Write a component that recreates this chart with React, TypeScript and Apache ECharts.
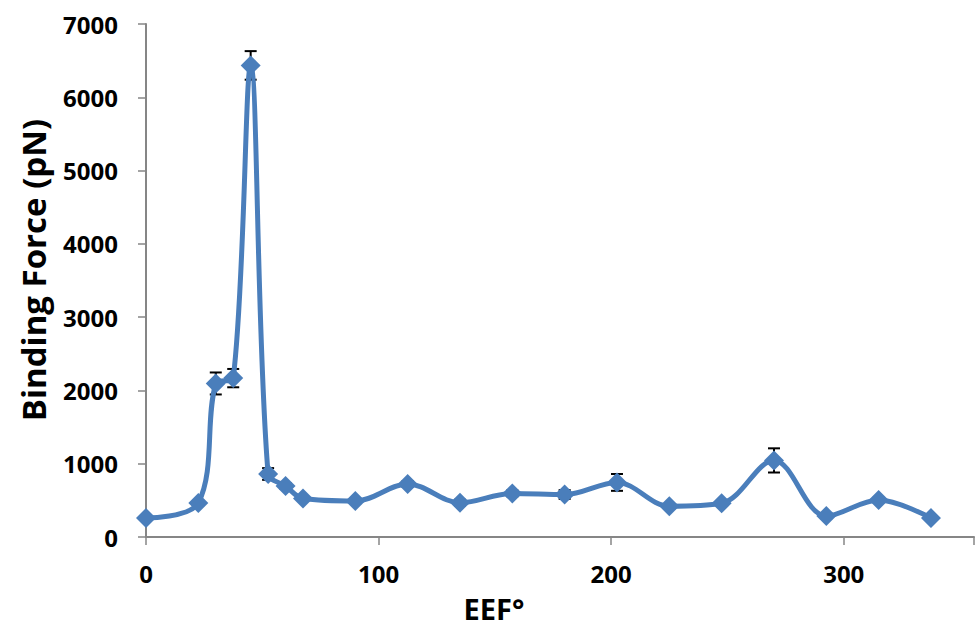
import React, { useEffect, useRef } from "react";
import * as echarts from "echarts";

const eef: number[] = [0, 22.5, 30, 37.5, 45, 52.5, 60, 67.5, 90, 112.5, 135, 157.5, 180, 202.5, 225, 247.5, 270, 292.5, 315, 337.5];
const force: number[] = [259, 464, 2095, 2168, 6435, 860, 696, 525, 491, 723, 468, 595, 580, 745, 420, 460, 1045, 286, 505, 259];
const errors: number[] = [20, 30, 150, 125, 195, 80, 40, 30, 30, 40, 40, 40, 60, 115, 30, 30, 165, 30, 30, 20];
const xTicks: number[] = [0, 100, 200, 300];
const yTicks: number[] = [0, 1000, 2000, 3000, 4000, 5000, 6000, 7000];

const BLUE = "#4A7EBB";
const AXIS = "#868686";
const FONT = "'Open Sans', 'DejaVu Sans', sans-serif";

export default function App() {
  const ref = useRef<HTMLDivElement>(null);
  useEffect(() => {
    if (!ref.current) return;
    const chart = echarts.init(ref.current, undefined, { renderer: "svg" });
    const lineData = eef.map((x, i) => [x, force[i]]);
    const errData = eef.map((x, i) => [x, force[i] - errors[i], force[i] + errors[i]]);
    chart.setOption({
      animation: false,
      backgroundColor: "#ffffff",
      grid: { left: 146, right: 0, top: 24, bottom: 91, containLabel: false },
      xAxis: {
        type: "value",
        min: 0,
        max: 356,
        interval: 100,
        splitLine: { show: false },
        axisLine: { show: true, lineStyle: { color: AXIS, width: 2 } },
        axisTick: { show: true, length: 8, lineStyle: { color: AXIS, width: 1.5 } },
        axisLabel: {
          margin: 24,
          color: "#000",
          fontFamily: FONT,
          fontWeight: "bold",
          fontSize: 24,
          formatter: (v: number) => (xTicks.indexOf(v) >= 0 ? String(v) : ""),
        },
      },
      yAxis: {
        type: "value",
        min: 0,
        max: 7000,
        interval: 1000,
        splitLine: { show: false },
        axisLine: { show: true, lineStyle: { color: AXIS, width: 2 } },
        axisTick: { show: true, length: 8, lineStyle: { color: AXIS, width: 1.5 } },
        axisLabel: {
          margin: 28,
          color: "#000",
          fontFamily: FONT,
          fontWeight: "bold",
          fontSize: 24,
          formatter: (v: number) => (yTicks.indexOf(v) >= 0 ? String(v) : ""),
        },
      },
      graphic: [
        {
          type: "text",
          x: 33,
          y: 270,
          rotation: Math.PI / 2,
          style: {
            text: "Binding Force (pN)",
            fontFamily: FONT,
            fontWeight: "bold",
            fontSize: 33,
            fill: "#000",
            align: "center",
            verticalAlign: "middle",
          },
        },
        {
          type: "text",
          x: 494,
          y: 608,
          style: {
            text: "EEF°",
            fontFamily: FONT,
            fontWeight: "bold",
            fontSize: 29,
            fill: "#000",
            align: "center",
            verticalAlign: "middle",
          },
        },
      ],
      series: [
        {
          type: "custom",
          data: errData,
          z: 1,
          renderItem: (params: any, api: any) => {
            const x = api.value(0);
            const lo = api.coord([x, api.value(1)]);
            const hi = api.coord([x, api.value(2)]);
            const hw = 6;
            const style = { stroke: "#000", lineWidth: 2 };
            return {
              type: "group",
              children: [
                { type: "line", shape: { x1: hi[0], y1: hi[1], x2: lo[0], y2: lo[1] }, style },
                { type: "line", shape: { x1: hi[0] - hw, y1: hi[1], x2: hi[0] + hw, y2: hi[1] }, style },
                { type: "line", shape: { x1: lo[0] - hw, y1: lo[1], x2: lo[0] + hw, y2: lo[1] }, style },
              ],
            };
          },
        },
        {
          type: "line",
          data: lineData,
          smooth: 0.35,
          symbol: "diamond",
          symbolSize: 20,
          itemStyle: { color: BLUE },
          lineStyle: { color: BLUE, width: 5 },
          z: 2,
        },
      ],
    });
    return () => chart.dispose();
  }, []);
  return (
    <div
      ref={ref}
      style={{ position: "fixed", left: 0, top: 0, width: 977, height: 628 }}
    />
  );
}
